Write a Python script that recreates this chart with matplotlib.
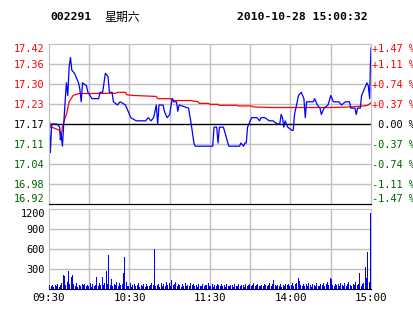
import matplotlib
matplotlib.use("Agg")
import matplotlib.pyplot as plt
import numpy as np

# ---- data ----
PREV_CLOSE = 17.17

# last price, (minute since 09:30 in trading minutes, price)
price_min = [0, 1, 2, 6, 8, 8.5, 9, 10, 11, 12, 13, 14, 15, 16, 17, 19, 22, 23, 24,
             25, 28, 29, 32, 37, 38, 40, 41, 42, 44, 45, 47, 48, 51, 53, 57, 59, 61,
             65, 72, 74, 76, 78, 80, 81, 82, 85, 86, 88, 90, 91, 92, 93, 95, 96, 97,
             104, 106, 108, 109, 122, 123, 125, 126, 127, 130, 132, 134, 142, 143,
             145, 146, 147, 148, 150, 151, 155, 157, 158, 161, 164, 167, 170, 172,
             173, 174, 175, 176, 178, 181, 182, 183, 185, 186, 188, 190, 191, 192,
             197, 198, 200, 202, 203, 205, 208, 210, 212, 216, 218, 221, 224, 225,
             228, 229, 230, 232, 233, 235, 237, 238, 239, 239.5, 240]
price = [17.19, 17.08, 17.17, 17.17, 17.16, 17.12, 17.14, 17.10, 17.17, 17.24, 17.30,
         17.26, 17.35, 17.38, 17.34, 17.33, 17.30, 17.28, 17.24, 17.30, 17.29, 17.27,
         17.25, 17.25, 17.27, 17.27, 17.30, 17.33, 17.32, 17.27, 17.27, 17.24, 17.23,
         17.24, 17.23, 17.21, 17.19, 17.18, 17.18, 17.19, 17.18, 17.19, 17.23, 17.17,
         17.23, 17.23, 17.21, 17.19, 17.20, 17.23, 17.25, 17.24, 17.24, 17.21, 17.23,
         17.22, 17.17, 17.11, 17.10, 17.10, 17.16, 17.16, 17.11, 17.16, 17.16, 17.13,
         17.10, 17.10, 17.11, 17.10, 17.11, 17.11, 17.16, 17.18, 17.19, 17.19, 17.18,
         17.19, 17.19, 17.18, 17.18, 17.17, 17.17, 17.20, 17.19, 17.16, 17.18, 17.16,
         17.15, 17.15, 17.20, 17.24, 17.26, 17.27, 17.25, 17.19, 17.24, 17.24, 17.25,
         17.23, 17.22, 17.20, 17.22, 17.23, 17.26, 17.24, 17.24, 17.23, 17.24, 17.24,
         17.22, 17.22, 17.20, 17.22, 17.22, 17.26, 17.28, 17.30, 17.29, 17.25, 17.35,
         17.41]

# average price
avg_min = [0, 1, 2, 8, 9, 10, 12, 13, 15, 18, 22, 50, 51, 57, 58, 63, 80, 81, 91, 92,
           106, 111, 112, 119, 120, 126, 127, 140, 141, 151, 152, 165, 210, 225, 235,
           238, 240]
avg = [17.19, 17.16, 17.16, 17.15, 17.13, 17.16, 17.19, 17.20, 17.24, 17.26, 17.266,
       17.267, 17.27, 17.27, 17.262, 17.26, 17.257, 17.25, 17.25, 17.244, 17.244, 17.24,
       17.235, 17.235, 17.232, 17.232, 17.229, 17.229, 17.227, 17.227, 17.224, 17.222,
       17.222, 17.224, 17.227, 17.23, 17.238]

# volume per minute (0..240)
volume = [70, 65, 40, 55, 30, 60, 45, 70, 35, 55,
          90, 215, 200, 60, 100, 275, 80, 175, 215, 70,
          40, 85, 30, 60, 45, 75, 55, 80, 40, 65,
          50, 90, 35, 70, 45, 60, 175, 40, 85, 55,
          175, 60, 90, 265, 70, 515, 60, 150, 45, 80,
          55, 100, 40, 85, 65, 70, 235, 485, 100, 50,
          40, 90, 35, 60, 75, 45, 55, 85, 30, 60,
          45, 70, 35, 80, 50, 40, 65, 90, 55, 600,
          40, 60, 75, 35, 90, 50, 70, 45, 110, 60,
          85, 40, 130, 55, 70, 100, 45, 80, 60, 35,
          75, 50, 90, 40, 60, 45, 85, 55, 70, 40,
          65, 35, 80, 50, 45, 70, 40, 60, 55, 85,
          50, 40, 75, 35, 60, 45, 80, 55, 40, 70,
          45, 60, 35, 80, 50, 40, 65, 55, 35, 70,
          50, 45, 75, 40, 60, 55, 35, 80, 45, 60,
          70, 40, 55, 85, 45, 60, 75, 40, 50, 65,
          45, 80, 55, 40, 60, 90, 50, 70, 135, 55,
          40, 65, 50, 75, 35, 60, 45, 80, 55, 70,
          40, 60, 85, 50, 70, 95, 165, 115, 60, 45,
          80, 50, 75, 40, 95, 55, 35, 70, 60, 45,
          85, 50, 40, 75, 60, 90, 45, 70, 100, 55,
          165, 150, 60, 45, 80, 55, 70, 40, 95, 60,
          50, 85, 45, 70, 100, 60, 40, 80, 55, 110,
          60, 75, 235, 50, 70, 85, 335, 165, 550, 100,
          1135]

price_labels = ["17.42", "17.36", "17.30", "17.23", "17.17",
                "17.11", "17.04", "16.98", "16.92"]
pct_labels = ["+1.47 %", "+1.11 %", "+0.74 %", "+0.37 %", " 0.00 %",
              "-0.37 %", "-0.74 %", "-1.11 %", "-1.47 %"]
vol_ticks = [300, 600, 900, 1200]
time_ticks = [0, 60, 120, 180, 240]
time_labels = ["09:30", "10:30", "11:30", "14:00", "15:00"]

RED = "#ff0000"
GREEN = "#006400"
GRID = "#c0c0c0"
MONO = "DejaVu Sans Mono"

W, H = 414, 314
fig = plt.figure(figsize=(W / 100, H / 100), dpi=100)


def box(x0, y0, x1, y1):
    return [x0 / W, 1 - y1 / H, (x1 - x0) / W, (y1 - y0) / H]


ax = fig.add_axes(box(49, 44, 371, 204))
axv = fig.add_axes(box(49, 209, 371, 289))


def clamp_labels(labels, colored=True):
    # first label hangs below the top line, last one sits above the bottom line
    n = len(labels)
    for i, lab in enumerate(labels):
        if colored:
            lab.set_color(RED if i < 4 else ("black" if i == 4 else GREEN))
        if i == 0:
            lab.set_va("top")
        elif i == n - 1:
            lab.set_va("bottom")


# ---- price panel ----
lo = PREV_CLOSE * (1 - 0.0147)
hi = PREV_CLOSE * (1 + 0.0147)
levels = np.linspace(hi, lo, 9)
ax.set_xlim(0, 240)
ax.set_ylim(lo, hi)
for lv in levels[1:-1]:
    if abs(lv - PREV_CLOSE) < 1e-6:
        continue
    ax.axhline(lv, color=GRID, lw=1, zorder=1)
for t in range(30, 240, 30):
    ax.axvline(t, color=GRID, lw=1, zorder=1)
ax.axhline(PREV_CLOSE, color="black", lw=1, zorder=2)

ax.plot(avg_min, avg, color=RED, lw=0.9, zorder=3)
ax.plot(price_min, price, color="#0000ff", lw=0.9, zorder=4)

ax.set_xticks([])
ax.set_yticks(levels)
ax.set_yticklabels(price_labels, fontfamily=MONO, fontsize=7.4)
ax.tick_params(axis="y", length=0, pad=3)
clamp_labels(ax.get_yticklabels())

axr = ax.twinx()
axr.set_ylim(lo, hi)
axr.set_yticks(levels)
axr.set_yticklabels(pct_labels, fontfamily=MONO, fontsize=7.4)
axr.tick_params(axis="y", length=0, pad=1)
clamp_labels(axr.get_yticklabels())

for a in (ax, axr):
    for s in ("top", "left", "right"):
        a.spines[s].set_color(GRID)
    a.spines["bottom"].set_color("black")

# ---- volume panel ----
axv.set_xlim(0, 240)
axv.set_ylim(0, 1200)
for v in vol_ticks[:-1]:
    axv.axhline(v, color=GRID, lw=1, zorder=1)
for t in range(30, 240, 30):
    axv.axvline(t, color=GRID, lw=1, zorder=1)
axv.bar(np.arange(len(volume)) - 0.4, volume, width=0.75, color="#0000ff",
        linewidth=0, zorder=3)
axv.set_yticks(vol_ticks)
axv.set_yticklabels([str(v) for v in vol_ticks], fontfamily=MONO, fontsize=7.4)
axv.get_yticklabels()[-1].set_va("top")
axv.set_xticks(time_ticks)
axv.set_xticklabels(time_labels, fontfamily=MONO, fontsize=7.8)
axv.tick_params(length=0)
axv.tick_params(axis="y", pad=3)
axv.tick_params(axis="x", pad=3)
for s in ("top", "left", "right"):
    axv.spines[s].set_color(GRID)
axv.spines["bottom"].set_color("black")

# ---- header ----
fig.text(50 / W, 1 - 17 / H, "002291", fontfamily=MONO, fontweight="bold",
         fontsize=8.2, va="center", ha="left")
fig.text(104 / W, 1 - 17 / H, "星期六", fontfamily=["Noto Sans CJK SC", "DejaVu Sans"],
         fontsize=8.6, va="center", ha="left")
fig.text(237 / W, 1 - 17 / H, "2010-10-28 15:00:32", fontfamily=MONO,
         fontweight="bold", fontsize=8.2, va="center", ha="left")

fig.savefig("out.png", dpi=100, facecolor="white")
